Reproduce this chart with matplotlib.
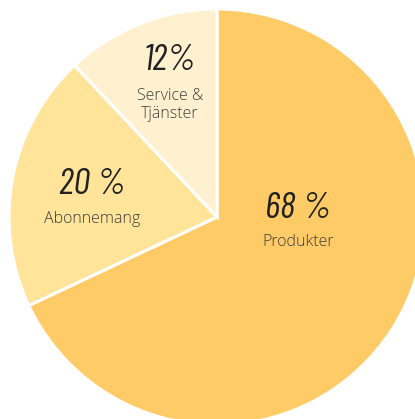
import matplotlib
matplotlib.use("Agg")
import matplotlib.pyplot as plt

categories = ["Produkter", "Abonnemang", "Service &\nTjänster"]
values = [68, 20, 12]
pct_labels = ["68 %", "20 %", "12%"]
colors = ["#FFCB66", "#FFE499", "#FFF1CF"]

W, H = 415, 419
fig = plt.figure(figsize=(W / 100, H / 100), dpi=100)
ax = fig.add_axes([0, 0, 1, 1])
ax.set_xlim(0, W)
ax.set_ylim(0, H)
ax.set_aspect("equal")
ax.axis("off")

cx, cy, r = 217, H - 217, 208
ax.pie(values, colors=colors, startangle=90, counterclock=False,
       center=(cx, cy), radius=r,
       wedgeprops=dict(edgecolor="white", linewidth=2.2))
ax.set_xlim(0, W)
ax.set_ylim(0, H)

pct_pos = [(298, H - 209), (92, H - 185), (170, H - 61)]
lab_pos = [(298, H - 242), (92, H - 219), (170, H - 105)]
for p, lab, pp, lp in zip(pct_labels, categories, pct_pos, lab_pos):
    ax.text(pp[0], pp[1], p, ha="center", va="center", fontsize=27,
            family=["Barlow Condensed", "DejaVu Sans"], style="italic",
            fontweight="normal", color="#222222")
    ax.text(lp[0], lp[1], lab, ha="center", va="center", fontsize=11.5,
            family=["Open Sans", "DejaVu Sans"], fontweight="light",
            color="#3f3f3f", linespacing=1.15)

fig.savefig("out.png", dpi=100)
